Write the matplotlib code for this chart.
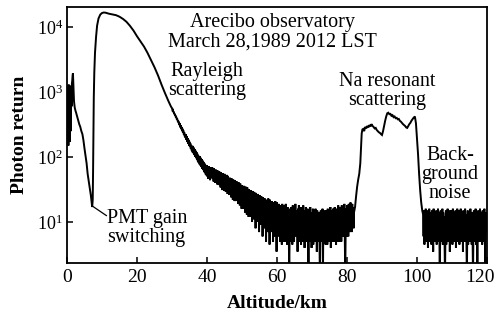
import numpy as np
import matplotlib
matplotlib.use('Agg')
import matplotlib.pyplot as plt
from matplotlib.ticker import FixedLocator, NullLocator, LogFormatterSciNotation
from matplotlib.transforms import ScaledTranslation

# ---------------- data ----------------
# 0 - 1.6 km, 0.1 km steps (noisy near field)
near_counts = [700, 1250, 200, 1000, 150, 1300, 350, 1150, 170, 900,
               1250, 250, 1100, 600, 1350, 1500, 1800]

# 1.7 - 29.75 km : gain switching dip and Rayleigh peak
ray_alt = [1.7, 1.8, 1.9, 2.0, 2.2, 2.4, 2.6, 2.9, 3.2, 3.5, 3.8, 4.1, 4.4, 4.7,
           5.0, 5.3, 5.6, 5.9, 6.2, 6.5, 6.8, 7.0, 7.2, 7.35, 7.45, 7.55, 7.65,
           7.8, 8.0, 8.3, 8.6, 9.0, 9.5, 10.0, 10.5, 11.0, 11.5, 12.0, 13.0,
           14.0, 15.0, 16.0, 17.0, 18.0, 19.0, 20.0, 21.0, 22.0, 23.0, 24.0,
           25.0, 26.0, 27.0, 28.0, 29.0, 29.75]
ray_counts = [1950, 1400, 950, 720, 580, 520, 480, 420, 370, 320, 290, 250, 225, 180,
              135, 105, 80, 55, 43, 33, 26, 21, 17, 22, 60, 250, 800,
              2000, 4000, 7000, 10500, 13500, 15500, 16400, 16700, 16600, 16300, 16000, 15600,
              15200, 14400, 13300, 12000, 10400, 8800, 7200, 6000, 5000, 4000, 3100,
              2400, 1800, 1300, 960, 720, 590]

# 30 - 81.875 km, 0.125 km steps (Rayleigh tail merging into noise floor)
floor_counts = [
    565, 525, 530, 490, 498, 458, 467, 430, 440, 402, 412, 378, 388, 355, 364, 333,
    348, 308, 328, 285, 308, 268, 290, 250, 273, 236, 256, 222, 240, 208, 226, 196,
    222, 183, 208, 170, 195, 160, 184, 150, 172, 142, 162, 133, 153, 126, 143, 118,
    148, 114, 139, 107, 132, 101, 125, 96, 119, 91, 112, 86, 106, 81, 101, 77,
    103, 74, 97, 70, 93, 66, 88, 63, 84, 60, 80, 57, 76, 54, 72, 52,
    75, 50, 68, 46, 72, 55, 64, 44, 70, 52, 66, 47, 69, 50, 62, 42,
    67, 44, 60, 40, 64, 47, 58, 38, 62, 45, 55, 37, 60, 41, 56, 34,
    58, 36, 54, 31, 56, 40, 50, 30, 55, 35, 52, 29, 49, 37, 53, 27,
    50, 32, 46, 26, 48, 34, 44, 24, 47, 30, 43, 22, 45, 31, 41, 21,
    44, 28, 40, 21, 42, 30, 38, 19, 41, 25, 37, 18, 39, 27, 36, 16,
    37, 22, 35, 16, 36, 24, 33, 14, 35, 20, 31, 13, 34, 23, 30, 12,
    32, 19, 30, 12, 31, 21, 28, 10, 30, 17, 27, 11, 29, 18, 26, 8,
    28, 16, 26, 10, 27, 18, 24, 7, 26, 14, 23, 9, 25, 15, 22, 6,
    24, 13, 22, 8, 23, 15, 20, 5, 22, 12, 21, 7, 23, 13, 19, 4.5,
    22, 11, 20, 7, 21, 13, 19, 5, 20, 10, 18, 6, 21, 12, 17, 3.5,
    20, 10, 18, 6, 19, 11, 17, 5, 18, 9, 16, 4.5, 19, 11, 16, 5,
    18, 9, 17, 5, 19, 10, 15, 4.5, 17, 8, 15, 6, 1.5, 9, 16, 5,
    17, 8, 15, 4.5, 18, 10, 14, 5, 16, 7, 19, 6, 15, 9, 14, 3.5,
    16, 8, 18, 5, 15, 10, 17, 4.5, 14, 7, 16, 5, 18, 9, 15, 4,
    15, 7, 17, 5, 14, 9, 16, 4.5, 1.2, 8, 15, 5, 17, 7, 14, 4,
    14, 6, 16, 4.5, 15, 8, 13, 5, 16, 7, 14, 3.5, 15, 9, 13, 5,
    14, 6, 1.5, 8, 15, 5, 13, 7, 16, 1.3, 14, 5, 15, 8, 13, 4.5,
    15, 7, 14, 4.5, 16, 8, 13, 5, 15, 6, 17, 4, 14, 9, 15, 5,
    16, 7, 15, 5, 17, 9, 14, 4.5, 16, 8, 15, 5, 18, 7, 16, 5,
    17, 8, 16, 5, 18, 9, 15, 6, 17, 7, 19, 5, 1.5, 8, 16, 6,
    18, 9, 17, 6, 19, 10, 16, 7, 20, 9, 18, 7, 19, 11, 17, 8]

# 82 - 101.5 km : Na resonant layer
na_alt = [82.0, 82.3, 82.6, 82.9, 83.2, 83.5, 83.8, 84.0, 84.2, 84.4,
          84.6, 84.9, 85.2, 85.5, 85.8, 86.1, 86.4, 86.7, 87.0, 87.3, 87.6, 87.9,
          88.2, 88.5, 88.8, 89.1, 89.4, 89.7, 90.0, 90.3, 90.6, 90.9, 91.2, 91.5,
          91.8, 92.1, 92.4, 92.7, 93.0, 93.3, 93.6, 93.9, 94.2, 94.5, 94.8, 95.1,
          95.4, 95.7, 96.0, 96.3, 96.6, 96.9, 97.2, 97.5, 97.8, 98.1, 98.4, 98.7,
          99.0, 99.4, 99.7, 100.0, 100.3, 100.6, 100.9, 101.2, 101.5]
na_counts = [14, 17, 25, 35, 45, 55, 80, 140, 230, 265,
             270, 250, 290, 275, 300, 285, 310, 295, 320, 300, 290, 275,
             280, 260, 250, 240, 235, 225, 218, 250, 300, 360, 420, 470,
             480, 455, 460, 430, 440, 410, 420, 395, 400, 380, 385, 360,
             350, 335, 320, 310, 300, 285, 280, 300, 320, 335, 360, 380,
             400, 420, 330, 190, 110, 55, 31, 20, 15]

# 101.75 - 120 km, 0.125 km steps (background noise)
bg_counts = [
    13, 6, 15, 4.5, 14, 8, 16, 5, 12, 7, 15, 4, 13, 9, 16, 5,
    14, 6, 12, 4.5, 15, 8, 13, 3.5, 16, 7, 14, 5, 12, 8, 15, 4.5,
    13, 7, 16, 5, 14, 9, 1.5, 6, 15, 5, 13, 8, 16, 4.5, 14, 7,
    12, 5, 1.4, 7, 15, 4.5, 14, 9, 16, 5, 13, 7, 15, 3.5, 12, 8,
    15, 6, 13, 4.5, 16, 8, 14, 5, 12, 7, 15, 4, 14, 9, 16, 5,
    13, 6, 15, 4.5, 12, 8, 16, 5, 14, 7, 13, 3.5, 15, 9, 14, 5,
    16, 7, 13, 5, 1.5, 8, 15, 4.5, 14, 6, 12, 5, 16, 9, 13, 4.5,
    14, 6, 1.4, 7, 15, 5, 13, 8, 16, 4.5, 14, 6, 1.5, 7, 15, 5,
    13, 8, 16, 5, 14, 7, 12, 4.5, 15, 6, 13, 5, 16, 8, 1.6, 6,
    14, 7, 12]

near_alt = 0.0 + 0.1 * np.arange(len(near_counts))
floor_alt = 30.0 + 0.125 * np.arange(len(floor_counts))
bg_alt = 101.75 + 0.125 * np.arange(len(bg_counts))

altitude = np.concatenate([near_alt, ray_alt, floor_alt, na_alt, bg_alt])
photons = np.concatenate([near_counts, ray_counts, floor_counts, na_counts, bg_counts])

x_ticks = [0, 20, 40, 60, 80, 100, 120]
y_ticks = [10, 100, 1000, 10000]

# ---------------- style ----------------
plt.rcParams['font.family'] = ['Liberation Serif', 'DejaVu Serif']
plt.rcParams['mathtext.fontset'] = 'custom'
plt.rcParams['mathtext.rm'] = 'Liberation Serif'
plt.rcParams['mathtext.it'] = 'Liberation Serif:italic'
plt.rcParams['mathtext.bf'] = 'Liberation Serif:bold'

fig = plt.figure(figsize=(4.99, 3.15), dpi=100)
ax = fig.add_axes([67 / 499, 1 - 263 / 315, 420 / 499, 256 / 315])

ax.plot(altitude, photons, color='black', lw=1.4, solid_joinstyle='miter')

ax.set_yscale('log')
ax.set_xlim(0, 120)
ax.set_ylim(2.34, 2.03e4)
ax.xaxis.set_major_locator(FixedLocator(x_ticks))
ax.yaxis.set_major_locator(FixedLocator(y_ticks))
ax.yaxis.set_major_formatter(LogFormatterSciNotation())
ax.yaxis.set_minor_locator(NullLocator())
ax.xaxis.set_minor_locator(NullLocator())

for s in ax.spines.values():
    s.set_linewidth(1.3)
ax.tick_params(direction='in', length=4, width=1.1, pad=4)
ax.tick_params(axis='x', labelsize=14)
ax.tick_params(axis='y', labelsize=13, pad=3)

ax.set_xlabel('Altitude/km', fontsize=14, fontweight='bold')
ax.set_ylabel('Photon return', fontsize=14, fontweight='bold')
ax.xaxis.set_label_coords(0.5, (263 - 304) / 256)
ax.xaxis.label.set_verticalalignment('center')
ax.yaxis.set_label_coords((20 - 67) / 420, 0.5)
ax.yaxis.label.set_verticalalignment('center')

# keep the last x tick label inside the figure
fig.canvas.draw()
last = ax.get_xticklabels()[-1]
last.set_transform(last.get_transform() + ScaledTranslation(-7 / 100, 0, fig.dpi_scale_trans))

tf = ax.transAxes
ax.text(0.490, 0.902, 'Arecibo observatory\nMarch 28,1989 2012 LST', transform=tf,
        ha='center', va='center', fontsize=14.5, linespacing=1.0)
ax.text(0.333, 0.712, 'Rayleigh\nscattering', transform=tf,
        ha='center', va='center', fontsize=14.5, linespacing=1.0)
ax.text(0.762, 0.672, 'Na resonant\nscattering', transform=tf,
        ha='center', va='center', fontsize=14.5, linespacing=1.0)
ax.text(0.912, 0.346, 'Back-\nground\nnoise', transform=tf,
        ha='center', va='center', fontsize=14.5, linespacing=1.0)
ax.text(0.095, 0.137, 'PMT gain\nswitching', transform=tf,
        ha='left', va='center', fontsize=14.5, linespacing=1.0)
ax.annotate('', xy=(7.3, 17.5), xytext=(11.3, 12.5),
            arrowprops=dict(arrowstyle='-', lw=0.9, color='black',
                            shrinkA=0, shrinkB=0))

fig.savefig('out.png', dpi=100)
